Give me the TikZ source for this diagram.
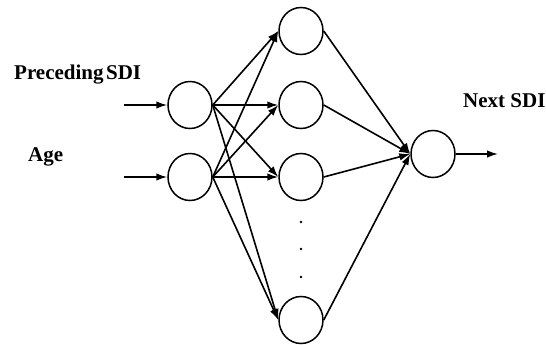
\documentclass[tikz,border=0pt]{standalone}
\usepackage{fontspec}
\setmainfont{Liberation Serif}
\usetikzlibrary{arrows.meta,shapes.geometric}
\begin{document}
\begin{tikzpicture}[x=1pt,y=-1pt,
  neuron/.style={draw,ellipse,minimum width=44pt,minimum height=47pt,inner sep=0pt,line width=1.5pt},
  link/.style={-{Latex[length=11pt,width=7.5pt]},line width=1.6pt},
  lbl/.style={font=\bfseries\fontsize{21}{24}\selectfont,inner sep=0pt}]
\useasboundingbox (0,0) rectangle (546,345);

% input layer
\node[neuron] (i1) at (190,105) {};
\node[neuron] (i2) at (190,177) {};
% hidden layer
\node[neuron] (h1) at (301,31) {};
\node[neuron] (h2) at (301,105) {};
\node[neuron] (h3) at (301,177) {};
\node[neuron] (h4) at (301,320) {};
% output layer
\node[neuron] (o) at (433,154) {};

% free ends of the input and output arrows
\coordinate (a1) at (124,105);
\coordinate (a2) at (124,177);
\coordinate (out) at (498,154);

% labels
\node[lbl,anchor=base west] (lp) at (14,79) {Preceding\hspace{0.12em}SDI};
\node[lbl,anchor=base west] (la) at (28,161) {Age};
\node[lbl,anchor=base west] (ln) at (463,107) {Next SDI};

% ellipsis dots between hidden neurons
\foreach \y [count=\k] in {222,249,277}
  \fill (301,\y) circle (1.3pt) coordinate (d\k);

% connections
\draw[link] (a1) -- (i1.west);
\draw[link] (a2) -- (i2.west);
\foreach \i in {i1,i2}
  \foreach \h in {h1,h2,h3,h4}
    \draw[link] (\i.east) -- (\h.west);
\foreach \h in {h1,h2,h3,h4}
  \draw[link] (\h.east) -- (o.west);
\draw[link] (o.east) -- (out);
\end{tikzpicture}
\end{document}
